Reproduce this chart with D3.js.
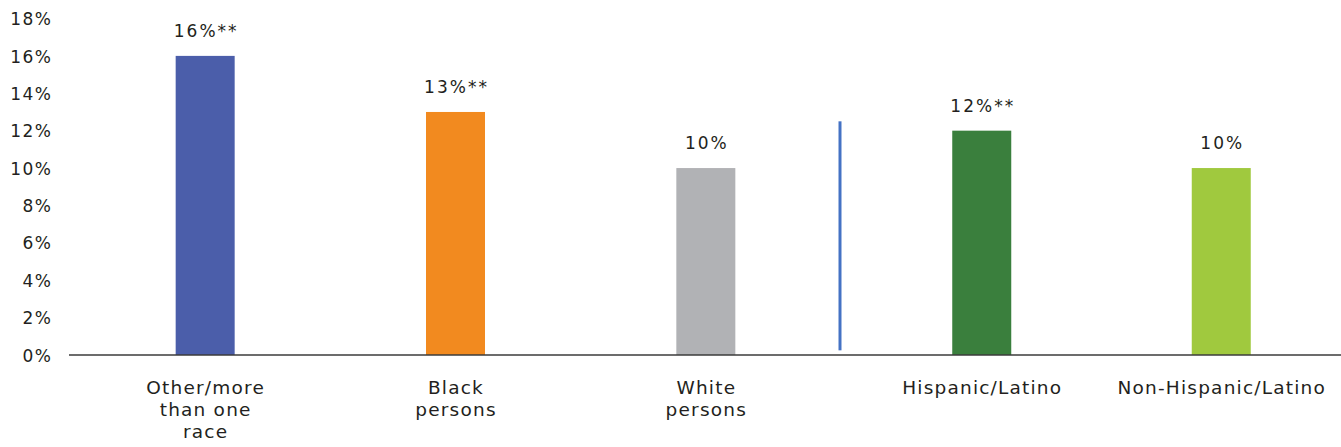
<!DOCTYPE html>
<html>
<head>
<meta charset="utf-8">
<script src="https://cdn.jsdelivr.net/npm/d3@7"></script>
<style>
  html, body { margin: 0; padding: 0; background: #fff; }
  svg { display: block; }
  .tick-label { font-family: "DejaVu Sans", sans-serif; font-size: 17px; fill: #231f20; letter-spacing: 1.5px; }
  .value-label { font-family: "DejaVu Sans", sans-serif; font-size: 17px; fill: #231f20; letter-spacing: 2px; }
  .cat-label { font-family: "DejaVu Sans", sans-serif; font-size: 18.5px; fill: #231f20; letter-spacing: 1.2px; }
</style>
</head>
<body>
<svg id="chart" width="1341" height="447"></svg>
<script>
// Race groups (left panel) and ethnicity groups (right panel)
const raceCategories = ["Other/more than one race", "Black persons", "White persons"];
const raceValues = [16, 13, 10];
const raceLabels = ["16%**", "13%**", "10%"];
const raceColors = ["#4b5eaa", "#f28a1f", "#b1b2b5"];

const ethCategories = ["Hispanic/Latino", "Non-Hispanic/Latino"];
const ethValues = [12, 10];
const ethLabels = ["12%**", "10%"];
const ethColors = ["#3a7f3d", "#a0c93e"];

const yTicks = [0, 2, 4, 6, 8, 10, 12, 14, 16, 18];

// Wrapped category text
const categoryLines = {
  "Other/more than one race": ["Other/more", "than one", "race"],
  "Black persons": ["Black", "persons"],
  "White persons": ["White", "persons"],
  "Hispanic/Latino": ["Hispanic/Latino"],
  "Non-Hispanic/Latino": ["Non-Hispanic/Latino"]
};

const svg = d3.select("#chart");
const barWidth = 59;

const y = d3.scaleLinear().domain([0, 18]).range([355, 18.5]);

const xLeft = d3.scaleBand().domain(raceCategories).range([80, 831]);
const xRight = d3.scaleBand().domain(ethCategories).range([862, 1341]);

// Y axis labels (no axis line)
const yAxis = d3.axisLeft(y).tickValues(yTicks).tickFormat(d => d + "%").tickSize(0).tickPadding(0);
const yg = svg.append("g").attr("transform", "translate(52.5,0)").call(yAxis);
yg.select(".domain").remove();
yg.selectAll("text").attr("class", "tick-label").attr("font-family", null).attr("font-size", null)
  .attr("dy", "0.36em");

function drawGroup(x, cats, vals, labels, colors) {
  const g = svg.append("g");
  const cx = d => x(d) + x.bandwidth() / 2;
  g.selectAll("rect").data(cats).join("rect")
    .attr("x", d => cx(d) - barWidth / 2)
    .attr("width", barWidth)
    .attr("y", (d, i) => y(vals[i]))
    .attr("height", (d, i) => y(0) - y(vals[i]))
    .attr("fill", (d, i) => colors[i]);
  g.selectAll("text.value-label").data(cats).join("text")
    .attr("class", "value-label")
    .attr("x", d => cx(d) + 1)
    .attr("y", (d, i) => y(vals[i]) - 19)
    .attr("text-anchor", "middle")
    .text((d, i) => labels[i]);
  const cl = g.selectAll("text.cat-label").data(cats).join("text")
    .attr("class", "cat-label")
    .attr("x", cx)
    .attr("y", 394)
    .attr("text-anchor", "middle");
  cl.selectAll("tspan").data(d => categoryLines[d].map(t => ({ t, c: cx(d) + 0.5 }))).join("tspan")
    .attr("x", d => d.c)
    .attr("dy", (d, i) => i === 0 ? 0 : 22)
    .text(d => d.t);
}

drawGroup(xLeft, raceCategories, raceValues, raceLabels, raceColors);
drawGroup(xRight, ethCategories, ethValues, ethLabels, ethColors);

// Divider between the two panels
svg.append("line")
  .attr("x1", 840).attr("x2", 840)
  .attr("y1", y(12.5)).attr("y2", y(0.25))
  .attr("stroke", "#4472c4").attr("stroke-width", 3);

// Baseline
svg.append("line")
  .attr("x1", 69).attr("x2", 1341)
  .attr("y1", y(0)).attr("y2", y(0))
  .attr("stroke", "#3b3b3b").attr("stroke-width", 1.5);
</script>
</body>
</html>
